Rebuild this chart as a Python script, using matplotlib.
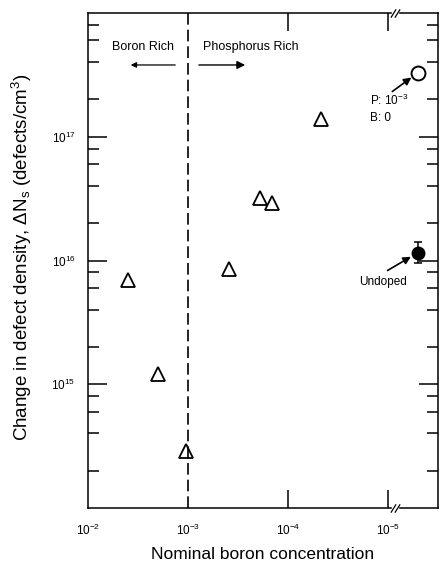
import numpy as np
import matplotlib
matplotlib.use('Agg')
import matplotlib.pyplot as plt
from matplotlib.ticker import FixedLocator, NullFormatter
import matplotlib.transforms as mtransforms

plt.rcParams['font.family'] = ['Liberation Sans', 'DejaVu Sans']
plt.rcParams['mathtext.fontset'] = 'custom'
plt.rcParams['mathtext.rm'] = 'Liberation Sans'
plt.rcParams['mathtext.it'] = 'Liberation Sans:italic'

""" Data """
# doped samples (triangles)
boron_conc = [4.0e-3, 2.0e-3, 1.05e-3, 3.9e-4, 1.9e-4, 1.45e-4, 4.7e-5]
defect_density = [6.9e15, 1.2e15, 2.9e14, 8.6e15, 3.2e16, 2.9e16, 1.4e17]

# B = 0 samples, drawn past the axis break
zero_boron_pos = 5e-6
p_only_density = 3.3e17
undoped_density = 1.16e16
undoped_err_low = 0.21e16
undoped_err_high = 0.24e16

x_ticks = [1e-2, 1e-3, 1e-4, 1e-5]
x_ticklabels = ['$10^{-2}$', '$10^{-3}$', '$10^{-4}$', '$10^{-5}$']
y_ticks = [1e15, 1e16, 1e17]
y_ticklabels = ['$10^{15}$', '$10^{16}$', '$10^{17}$']

fig = plt.figure(figsize=(4.41, 5.67), dpi=100)
ax = fig.add_axes([88/441, 59/567, 350/441, 495/567])

ax.set_xscale('log')
ax.set_yscale('log')
ax.set_xlim(1e-2, 10**-5.5)
ax.set_ylim(1e14, 1e18)

ax.plot(boron_conc, defect_density, '^', ms=10.5, mfc='white', mec='black', mew=1.3)
ax.plot([zero_boron_pos], [p_only_density], 'o', ms=10, mfc='white', mec='black', mew=1.4)
ax.errorbar([zero_boron_pos], [undoped_density],
            yerr=[[undoped_err_low], [undoped_err_high]],
            fmt='o', ms=9, color='black', capsize=3, elinewidth=1.1, capthick=1.1)

ax.axvline(1e-3, color='black', lw=1.2, ls=(0, (7, 3)))

# ticks
ax.xaxis.set_major_locator(FixedLocator(x_ticks))
ax.xaxis.set_minor_locator(FixedLocator([]))
ax.set_xticklabels(x_ticklabels)
ax.yaxis.set_major_locator(FixedLocator(y_ticks))
minors = [m * 10.0**e for e in range(14, 18) for m in (2, 4, 6, 8)]
ax.yaxis.set_minor_locator(FixedLocator(minors))
ax.yaxis.set_minor_formatter(NullFormatter())
ax.set_yticklabels(y_ticklabels)

ax.tick_params(axis='both', which='both', direction='in', top=True, right=True, width=1.1)
ax.tick_params(axis='y', which='major', length=14, labelsize=8.5, pad=9)
ax.tick_params(axis='y', which='minor', length=8)
ax.tick_params(axis='x', which='major', length=13, labelsize=8.5, pad=11)
for t in ax.xaxis.get_major_ticks()[:2]:
    t.tick1line.set_visible(False)
    t.tick2line.set_visible(False)
for s in ax.spines.values():
    s.set_linewidth(1.1)

# axis break marks
trans = mtransforms.blended_transform_factory(ax.transData, ax.transAxes)
for yy in (0, 1):
    ax.plot([10**-5.065], [yy], marker='s', ms=4, mfc='white', mec='white',
            transform=trans, clip_on=False, zorder=5)
    for xx in (10**-5.045, 10**-5.09):
        ax.plot([xx], [yy], marker=[(-1, -1.6), (1, 1.6)], ms=6, mec='black', mew=0.9,
                transform=trans, clip_on=False, zorder=6)

ax.set_xlabel('Nominal boron concentration', fontsize=12.5)
ax.xaxis.set_label_coords(0.5, -0.079)
ax.set_ylabel(r'Change in defect density, $\Delta\mathrm{N}_\mathrm{s}$ (defects/cm$^3$)', fontsize=13.5)
ax.yaxis.set_label_coords(-0.155, 0.507)

# annotations
ax.text(0.157, 0.931, 'Boron Rich', transform=ax.transAxes, ha='center', va='center', fontsize=9)
ax.text(0.466, 0.931, 'Phosphorus Rich', transform=ax.transAxes, ha='center', va='center', fontsize=9)
ax.annotate('', xy=(0.114, 0.895), xytext=(0.257, 0.895), xycoords='axes fraction',
            arrowprops=dict(arrowstyle='-|>', color='black', lw=0.9, mutation_scale=8))
ax.annotate('', xy=(0.457, 0.895), xytext=(0.309, 0.895), xycoords='axes fraction',
            arrowprops=dict(arrowstyle='-|>', color='black', lw=1.0, mutation_scale=12))

ax.text(0.806, 0.824, 'P: $10^{-3}$', transform=ax.transAxes, ha='left', va='center', fontsize=8.5)
ax.text(0.806, 0.788, 'B: 0', transform=ax.transAxes, ha='left', va='center', fontsize=8.5)
ax.annotate('', xy=(zero_boron_pos, p_only_density), xytext=(0.863, 0.838),
            textcoords='axes fraction',
            arrowprops=dict(arrowstyle='-|>', color='black', lw=1.2, mutation_scale=11, shrinkB=6))

ax.text(0.843, 0.457, 'Undoped', transform=ax.transAxes, ha='center', va='center', fontsize=8.5)
ax.annotate('', xy=(zero_boron_pos, undoped_density), xytext=(0.849, 0.477),
            textcoords='axes fraction',
            arrowprops=dict(arrowstyle='-|>', color='black', lw=1.2, mutation_scale=11, shrinkB=6))

fig.savefig('out.png', dpi=100)
